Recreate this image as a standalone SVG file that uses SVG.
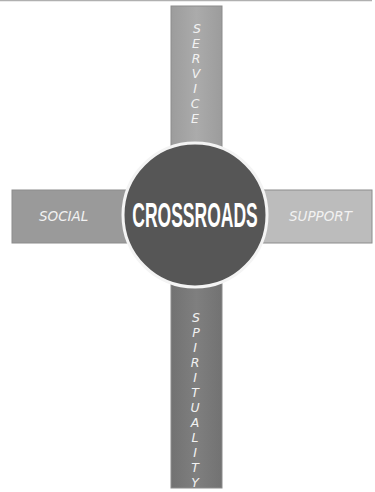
<svg xmlns="http://www.w3.org/2000/svg" width="375" height="492" viewBox="0 0 375 492">
<defs>
<style>
.bar{stroke:#8c8c8c;stroke-width:1}
.lbl{font-family:"DejaVu Sans","Liberation Sans",sans-serif;font-style:italic;font-size:13.5px;fill:#f2f2f2}
.vl{font-family:"DejaVu Sans","Liberation Sans",sans-serif;font-style:italic;font-size:12.5px;fill:#f2f2f2;text-anchor:middle}
.title{font-family:"Liberation Sans",Arial,sans-serif;font-weight:bold;font-size:35px;fill:#ffffff;text-anchor:middle}
</style>
<linearGradient id="gTop" x1="0" y1="0" x2="1" y2="0">
<stop offset="0" stop-color="#9c9c9c"/><stop offset="0.5" stop-color="#ababab"/><stop offset="1" stop-color="#9c9c9c"/>
</linearGradient>
<linearGradient id="gBot" x1="0" y1="0" x2="1" y2="0">
<stop offset="0" stop-color="#727272"/><stop offset="0.5" stop-color="#7f7f7f"/><stop offset="1" stop-color="#727272"/>
</linearGradient>
</defs>
<rect width="375" height="492" fill="#ffffff"/>
<line x1="0" y1="0.5" x2="372" y2="0.5" stroke="#b0b0b0" stroke-width="1.5"/>
<g id="service">
<rect class="bar" x="171" y="6" width="51" height="150" fill="url(#gTop)"/>
<text class="vl" x="197" y="33">S</text>
<text class="vl" x="196" y="48">E</text>
<text class="vl" x="196" y="63">R</text>
<text class="vl" x="196" y="78">V</text>
<text class="vl" x="195" y="93">I</text>
<text class="vl" x="195" y="108">C</text>
<text class="vl" x="195" y="123">E</text>
</g>
<g id="social">
<rect class="bar" x="12" y="190" width="125" height="53" fill="#9a9a9a"/>
<text class="lbl" x="39" y="221">SOCIAL</text>
</g>
<g id="support">
<rect class="bar" x="258" y="190" width="114" height="53" fill="#bcbcbc"/>
<text class="lbl" x="289" y="221">SUPPORT</text>
</g>
<g id="spirituality">
<rect class="bar" x="171" y="280" width="51" height="208" fill="url(#gBot)"/>
<text class="vl" x="196" y="322">S</text>
<text class="vl" x="196" y="337">P</text>
<text class="vl" x="195" y="352">I</text>
<text class="vl" x="195" y="367">R</text>
<text class="vl" x="195" y="382">I</text>
<text class="vl" x="195" y="397">T</text>
<text class="vl" x="195" y="412">U</text>
<text class="vl" x="195" y="427">A</text>
<text class="vl" x="195" y="442">L</text>
<text class="vl" x="195" y="457">I</text>
<text class="vl" x="195" y="472">T</text>
<text class="vl" x="195" y="487">Y</text>
</g>
<g id="crossroads">
<circle cx="195" cy="215" r="72" fill="#565656" stroke="#f4f4f4" stroke-width="3"/>
<text class="title" transform="translate(195,227) scale(0.5,1)" x="0" y="0">CROSSROADS</text>
</g>
<g id="connectors"></g>
</svg>
